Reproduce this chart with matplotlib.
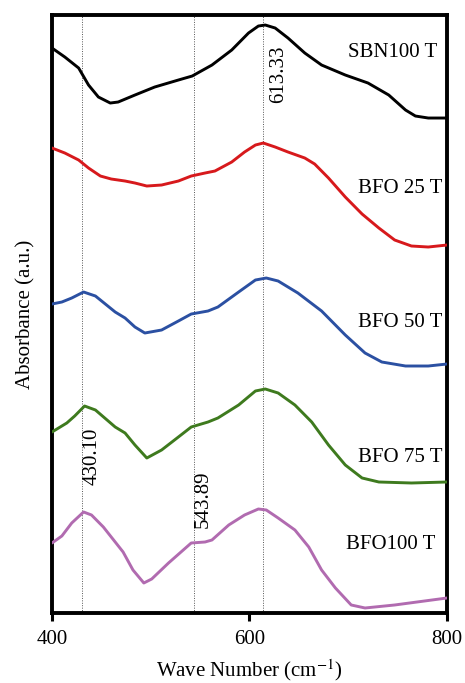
import matplotlib
matplotlib.use("Agg")
import matplotlib.pyplot as plt

plt.rcParams['font.family'] = ['Liberation Serif', 'DejaVu Serif']
plt.rcParams['mathtext.fontset'] = 'stix'

# spectra, stacked with offsets (a.u.)
wn_sbn100 = [400, 413, 427, 437, 447, 459, 467, 484, 504, 528, 542, 562, 582, 599, 609, 616,
             626, 639, 656, 673, 697, 720, 741, 758, 768, 781, 798, 800]
abs_sbn100 = [5.65, 5.56, 5.45, 5.28, 5.16, 5.10, 5.11, 5.18, 5.26, 5.33, 5.37, 5.48, 5.63, 5.80, 5.87, 5.88,
              5.85, 5.75, 5.60, 5.48, 5.38, 5.30, 5.18, 5.03, 4.97, 4.95, 4.95, 4.95]

wn_bfo25 = [400, 413, 427, 437, 449, 460, 474, 484, 496, 511, 528, 541, 555, 565, 582, 595,
            606, 614, 626, 639, 656, 666, 680, 697, 714, 731, 747, 764, 781, 800]
abs_bfo25 = [4.65, 4.60, 4.53, 4.45, 4.37, 4.34, 4.32, 4.30, 4.27, 4.28, 4.32, 4.37, 4.40, 4.42, 4.51, 4.61,
             4.68, 4.70, 4.66, 4.61, 4.55, 4.49, 4.35, 4.16, 3.99, 3.85, 3.73, 3.67, 3.66, 3.68]

wn_bfo50 = [400, 410, 420, 432, 444, 464, 474, 484, 494, 511, 528, 541, 558, 568, 589, 606,
            617, 629, 649, 673, 697, 717, 734, 758, 781, 800]
abs_bfo50 = [3.09, 3.11, 3.15, 3.21, 3.17, 3.01, 2.95, 2.86, 2.80, 2.83, 2.92, 2.99, 3.02, 3.06, 3.21, 3.33,
             3.35, 3.32, 3.20, 3.02, 2.78, 2.60, 2.51, 2.47, 2.47, 2.49]

wn_bfo75 = [400, 415, 423, 433, 444, 464, 474, 484, 496, 511, 528, 541, 558, 568, 589, 606,
            616, 629, 646, 663, 680, 697, 714, 731, 764, 800]
abs_bfo75 = [1.81, 1.90, 1.97, 2.07, 2.03, 1.86, 1.80, 1.68, 1.55, 1.63, 1.76, 1.86, 1.91, 1.95, 2.08, 2.22,
             2.24, 2.20, 2.08, 1.91, 1.68, 1.48, 1.35, 1.31, 1.30, 1.31]

wn_bfo100 = [400, 410, 420, 432, 440, 452, 464, 472, 482, 493, 501, 518, 541, 555, 562, 579,
             595, 609, 617, 629, 646, 660, 673, 687, 703, 717, 747, 800]
abs_bfo100 = [0.70, 0.77, 0.90, 1.01, 0.98, 0.86, 0.71, 0.61, 0.43, 0.30, 0.34, 0.50, 0.70, 0.71, 0.73, 0.88,
              0.98, 1.04, 1.03, 0.95, 0.83, 0.66, 0.43, 0.25, 0.08, 0.05, 0.08, 0.15]

peaks = [430.10, 543.89, 613.33]
sample_names = ['SBN100 T', 'BFO 25 T', 'BFO 50 T', 'BFO 75 T', 'BFO100 T']

fig = plt.figure(figsize=(4.65, 6.83), dpi=100)
ax = fig.add_axes([0.1118, 0.1025, 0.8495, 0.8755])

# reference lines at the band positions
for p in peaks:
    ax.axvline(p, color='#555555', lw=0.7, ls=(0, (1, 1.5)), zorder=1)

series = [(wn_sbn100, abs_sbn100, 'black'),
          (wn_bfo25, abs_bfo25, '#d7191c'),
          (wn_bfo50, abs_bfo50, '#2b50a2'),
          (wn_bfo75, abs_bfo75, '#3e7a1e'),
          (wn_bfo100, abs_bfo100, '#b16bb0')]
for wn, ab, col in series:
    ax.plot(wn, ab, color=col, lw=2.1, solid_joinstyle='round', solid_capstyle='round', zorder=3)

fs = 15
name_pos = [(790, 5.61), (795, 4.25), (795, 2.91), (795, 1.56), (788, 0.68)]
for name, (x, y) in zip(sample_names, name_pos):
    ax.text(x, y, name, ha='right', va='center', fontsize=fs)

ax.text(630, 5.39, '613.33', rotation=90, ha='center', va='center', fontsize=fs)
ax.text(440.5, 1.57, '430.10', rotation=90, ha='center', va='center', fontsize=fs)
ax.text(553, 1.14, '543.89', rotation=90, ha='center', va='center', fontsize=fs)

ax.set_xlim(400, 800)
ax.set_ylim(0, 5.98)
ax.set_xticks([400, 600, 800])
ax.set_yticks([])
ax.tick_params(axis='x', direction='out', length=6, width=2.2, labelsize=fs, pad=6)
for s in ax.spines.values():
    s.set_linewidth(2.8)

ax.set_xlabel('Wave Number (cm$^{-1}$)', fontsize=fs, labelpad=6)
ax.set_ylabel('Absorbance (a.u.)', fontsize=fs, labelpad=12)

fig.savefig('out.png', dpi=100)
